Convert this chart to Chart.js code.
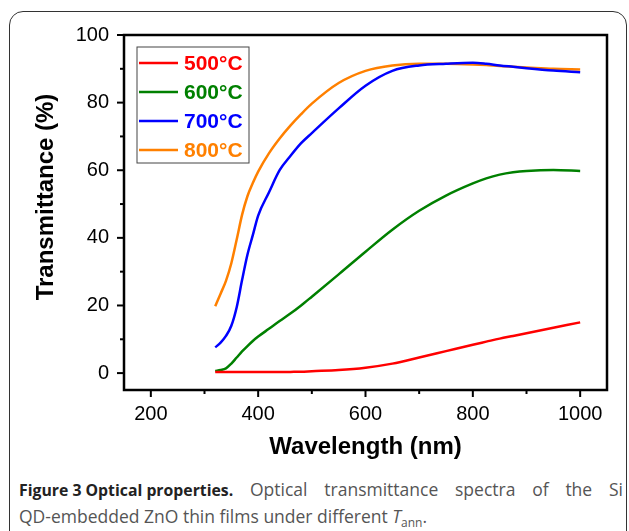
<!DOCTYPE html>
<html>
<head>
<meta charset="utf-8">
<script src="https://cdn.jsdelivr.net/npm/chart.js@4.4.0/dist/chart.umd.min.js"></script>
<style>
  html, body { margin: 0; padding: 0; background: #fff; }
  #wrap { position: relative; width: 629px; height: 531px; overflow: hidden; }
  #frame { position: absolute; left: 9px; top: 11px; width: 616px; height: 560px;
           border: 1.5px solid #333; border-radius: 14px; }
  #plot { position: absolute; left: 0; top: 0; }
  #caption { position: absolute; left: 19px; top: 476px; width: 604px;
             font-family: "Open Sans", sans-serif; font-size: 17.5px; line-height: 26px;
             color: #555; white-space: nowrap; }
  #caption .l1 { text-align: justify; text-align-last: justify; white-space: normal; }
  #caption b { color: #222; font-size: 15.8px; display: inline-block; white-space: nowrap; }
  #caption sub { font-size: 12px; vertical-align: -4px; line-height: 0; }
</style>
</head>
<body>
<div id="wrap">
  <div id="frame"></div>
  <canvas id="plot" width="629" height="470"></canvas>
  <div id="caption">
    <div class="l1"><b>Figure 3 Optical properties.</b> Optical transmittance spectra of the Si</div>
    <div>QD-embedded ZnO thin films under different <i>T</i><sub>ann</sub>.</div>
  </div>
</div>
<script>
// wavelength grid (nm)
const wavelength = [320, 330, 340, 350, 360, 370, 380, 390, 400, 420, 440, 460, 480, 500,
                    550, 600, 650, 700, 750, 800, 825, 850, 875, 900, 950, 1000];

// transmittance (%) for each annealing temperature
const t500 = [0.3, 0.3, 0.3, 0.3, 0.3, 0.3, 0.3, 0.3, 0.3, 0.3, 0.3, 0.35, 0.4, 0.55,
              0.9, 1.6, 2.8, 4.6, 6.5, 8.4, 9.3, 10.2, 11.0, 11.8, 13.4, 15.0];
const t600 = [0.6, 0.9, 1.4, 2.8, 4.6, 6.4, 8.0, 9.5, 10.8, 13.1, 15.4, 17.6, 20.0, 22.6,
              29.2, 35.9, 42.4, 48.0, 52.5, 56.1, 57.6, 58.7, 59.4, 59.8, 60.1, 59.8];
const t700 = [7.6, 9.0, 11.0, 14.0, 19.5, 27.5, 35.0, 40.8, 46.6, 53.4, 60.0, 64.2, 68.0, 71.0,
              78.3, 85.0, 89.4, 91.0, 91.5, 91.8, 91.5, 91.0, 90.6, 90.2, 89.5, 89.0];
const t800 = [19.8, 23.5, 27.3, 32.5, 39.5, 46.8, 52.3, 56.2, 59.6, 65.0, 69.4, 73.2, 76.6, 79.7,
              85.8, 89.4, 91.0, 91.5, 91.5, 91.3, 91.1, 90.8, 90.6, 90.4, 90.0, 89.8];

const seriesNames = ['500\u00B0C', '600\u00B0C', '700\u00B0C', '800\u00B0C'];
const seriesColors = ['#ff0000', '#008000', '#0000ff', '#ff8000'];
const seriesValues = [t500, t600, t700, t800];

const xTicks = [200, 300, 400, 500, 600, 700, 800, 900, 1000];
const yTicks = [0, 10, 20, 30, 40, 50, 60, 70, 80, 90, 100];

const datasets = seriesValues.map((vals, i) => ({
  label: seriesNames[i],
  data: wavelength.map((w, j) => ({ x: w, y: vals[j] })),
  borderColor: seriesColors[i],
  borderWidth: 2.5,
  pointRadius: 0,
  cubicInterpolationMode: 'monotone'
}));

const fontFamily = '"Liberation Sans", Arial, sans-serif';

// frame, ticks, y title and inset legend
const framePlugin = {
  id: 'frame',
  afterDraw(chart) {
    const ctx = chart.ctx, a = chart.chartArea;
    const xs = chart.scales.x, ys = chart.scales.y;
    ctx.save();
    ctx.strokeStyle = '#000';
    ctx.lineWidth = 2;
    xs.ticks.forEach(t => {
      const px = xs.getPixelForValue(t.value);
      const len = t.value % 200 === 0 ? 7 : 4;
      ctx.beginPath(); ctx.moveTo(px, a.bottom); ctx.lineTo(px, a.bottom + len); ctx.stroke();
    });
    ys.ticks.forEach(t => {
      const py = ys.getPixelForValue(t.value);
      const len = t.value % 20 === 0 ? 7 : 4;
      ctx.beginPath(); ctx.moveTo(a.left, py); ctx.lineTo(a.left - len, py); ctx.stroke();
    });
    ctx.lineWidth = 2.5;
    ctx.strokeRect(a.left, a.top, a.right - a.left, a.bottom - a.top);

    // y axis title (sits a bit above the plot centre in the original)
    ctx.save();
    ctx.translate(46, 197);
    ctx.rotate(-Math.PI / 2);
    ctx.font = 'bold 24px ' + fontFamily;
    ctx.fillStyle = '#000';
    ctx.textAlign = 'center';
    ctx.textBaseline = 'middle';
    ctx.fillText('Transmittance (%)', 0, 0);
    ctx.restore();

    // legend box
    const lx = a.left + 13, ly = a.top + 12;
    ctx.lineWidth = 1;
    ctx.strokeStyle = '#444';
    ctx.strokeRect(lx, ly, 112, 116);
    ctx.font = 'bold 21px ' + fontFamily;
    ctx.textBaseline = 'middle';
    chart.data.datasets.forEach((ds, i) => {
      const yy = ly + 16 + i * 29;
      ctx.strokeStyle = ds.borderColor;
      ctx.lineWidth = 2.5;
      ctx.beginPath(); ctx.moveTo(lx + 2, yy); ctx.lineTo(lx + 41, yy); ctx.stroke();
      ctx.fillStyle = ds.borderColor;
      ctx.fillText(ds.label, lx + 47, yy + 1);
    });
    ctx.restore();
  }
};

const tickFont = { family: fontFamily, size: 20 };
const titleFont = { family: fontFamily, size: 24, weight: 'bold' };

new Chart(document.getElementById('plot'), {
  type: 'line',
  data: { datasets: datasets },
  options: {
    responsive: false,
    animation: false,
    layout: { padding: { left: 28, top: 35, right: 22, bottom: 6 } },
    plugins: { legend: { display: false }, tooltip: { enabled: false } },
    scales: {
      x: {
        type: 'linear',
        min: 150, max: 1050,
        afterBuildTicks: s => { s.ticks = xTicks.map(v => ({ value: v })); },
        afterFit: s => { s.height = 74; s.paddingLeft = 0; s.paddingRight = 0; },
        grid: { display: false, drawTicks: false },
        border: { display: false },
        ticks: {
          color: '#000', font: tickFont, padding: 12, maxRotation: 0, autoSkip: false,
          callback: v => (v % 200 === 0 ? String(v) : '')
        },
        title: { display: true, text: 'Wavelength (nm)', color: '#000', font: titleFont,
                 padding: { top: 0, bottom: 2 } }
      },
      y: {
        min: -5, max: 100,
        afterBuildTicks: s => { s.ticks = yTicks.map(v => ({ value: v })); },
        afterFit: s => { s.width = 96; s.paddingTop = 0; s.paddingBottom = 0; },
        grid: { display: false, drawTicks: false },
        border: { display: false },
        ticks: {
          color: '#000', font: tickFont, padding: 15, autoSkip: false,
          callback: v => (v % 20 === 0 ? String(v) : '')
        }
      }
    }
  },
  plugins: [framePlugin]
});
</script>
</body>
</html>
